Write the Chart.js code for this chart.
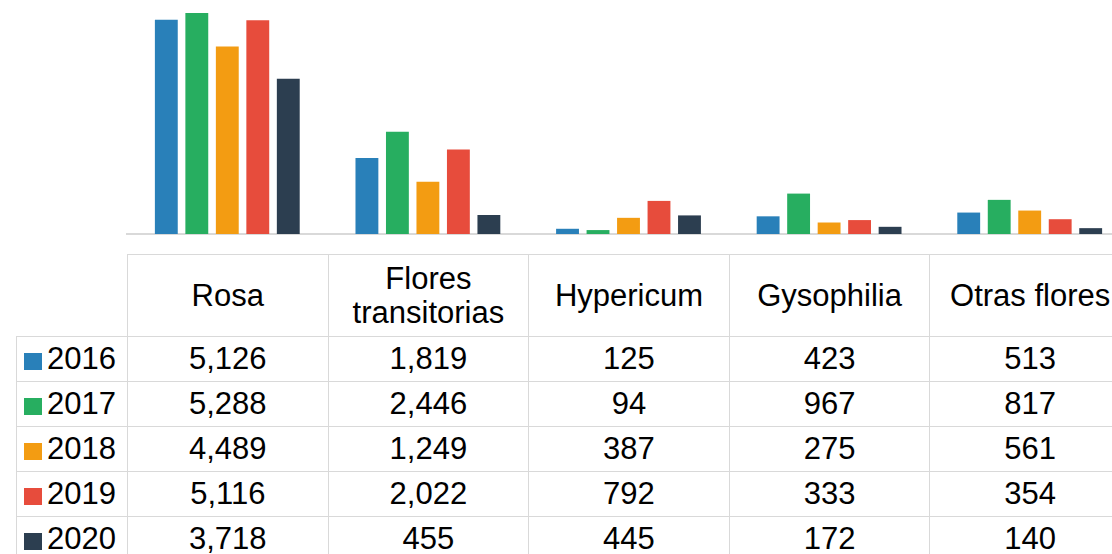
<!DOCTYPE html>
<html>
<head>
<meta charset="utf-8">
<script src="https://cdn.jsdelivr.net/npm/chart.js@4"></script>
<style>
  html, body { margin: 0; padding: 0; background: #fff; }
  body { width: 1112px; height: 554px; overflow: hidden; position: relative; }
  #wrap { position: absolute; left: 0; top: 0; width: 1140px; height: 554px; }
  #grafico { position: absolute; left: 0; top: 0; }
  #tabla {
    position: absolute; top: 254px; left: 16px;
    border-collapse: collapse; table-layout: fixed;
    font-family: "Liberation Sans", Arial, sans-serif; font-size: 31px; color: #000;
  }
  #tabla td, #tabla th { border: 1px solid #d9d9d9; text-align: center; padding: 0; font-weight: normal; }
  #tabla th { height: 81px; line-height: 34px; }
  #tabla td { height: 44px; }
  #tabla th.vacio { border: none; }
  #tabla td.serie { text-align: left; padding-left: 7px; white-space: nowrap; }
  .cuadro { display: inline-block; width: 18px; height: 17px; margin-right: 5px; vertical-align: -1px; }
</style>
</head>
<body>
<div id="wrap">
  <canvas id="grafico" width="1130" height="242"></canvas>
  <table id="tabla"></table>
</div>
<script>
const categorias = ['Rosa', 'Flores transitorias', 'Hypericum', 'Gysophilia', 'Otras flores'];
const cabeceras = ['Rosa', 'Flores<br>transitorias', 'Hypericum', 'Gysophilia', 'Otras flores'];
const anios = ['2016', '2017', '2018', '2019', '2020'];
const colores = ['#2980b9', '#27ae60', '#f39c12', '#e74c3c', '#2c3e50'];

const datos2016 = [5126, 1819, 125, 423, 513];
const datos2017 = [5288, 2446, 94, 967, 817];
const datos2018 = [4489, 1249, 387, 275, 561];
const datos2019 = [5116, 2022, 792, 333, 354];
const datos2020 = [3718, 455, 445, 172, 140];
const series = [datos2016, datos2017, datos2018, datos2019, datos2020];

const ctx = document.getElementById('grafico').getContext('2d');

const miGrafico = new Chart(ctx, {
    type: 'bar',
    data: {
        labels: categorias,
        datasets: series.map((d, i) => ({
            label: anios[i],
            data: d,
            backgroundColor: colores[i],
            categoryPercentage: 0.76,
            barPercentage: 0.75
        }))
    },
    options: {
        responsive: false,
        animation: false,
        layout: { padding: { left: 127, right: 0, top: 0, bottom: 0 } },
        plugins: { legend: { display: false }, tooltip: { enabled: false } },
        scales: {
            x: {
                grid: { display: false },
                ticks: { display: false },
                border: { display: true, color: '#d9d9d9', width: 2 }
            },
            y: {
                display: false,
                min: 0,
                max: 5600
            }
        }
    }
});

// tabla de datos alineada con las categorías del eje x
const area = miGrafico.chartArea;
const anchoCat = (area.right - area.left) / categorias.length;
const tabla = document.getElementById('tabla');
tabla.style.width = (area.left - 16 + anchoCat * categorias.length) + 'px';

let html = '<colgroup><col style="width:' + (area.left - 16) + 'px">';
categorias.forEach(() => { html += '<col style="width:' + anchoCat + 'px">'; });
html += '</colgroup><tr><th class="vacio"></th>';
cabeceras.forEach(c => { html += '<th>' + c + '</th>'; });
html += '</tr>';
series.forEach((d, i) => {
    html += '<tr><td class="serie"><span class="cuadro" style="background:' + colores[i] + '"></span>' + anios[i] + '</td>';
    d.forEach(v => { html += '<td>' + v.toLocaleString('en-US') + '</td>'; });
    html += '</tr>';
});
tabla.innerHTML = html;
</script>
</body>
</html>
